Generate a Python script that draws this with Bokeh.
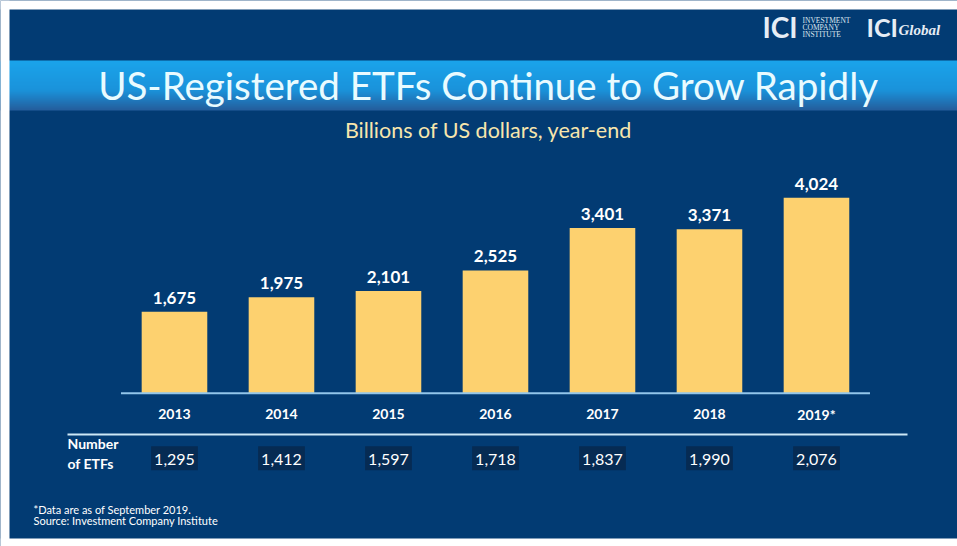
from bokeh.plotting import figure
from bokeh.models import ColumnDataSource, FactorRange, Range1d, Label, BoxAnnotation
from bokeh.transform import dodge
from bokeh.core.properties import value
from bokeh.embed import file_html
from bokeh.resources import INLINE

# ---------------- data ----------------
years = ["2013", "2014", "2015", "2016", "2017", "2018", "2019*"]
assets = [1675, 1975, 2101, 2525, 3401, 3371, 4024]          # billions of US dollars
etf_counts = [1295, 1412, 1597, 1718, 1837, 1990, 2076]      # number of ETFs
title_text = "US-Registered ETFs Continue to Grow Rapidly"
subtitle_text = "Billions of US dollars, year-end"
row_label = ["Number", "of ETFs"]
notes = ["*Data are as of September 2019.", "Source: Investment Company Institute"]

# ---------------- style ----------------
W, H = 957, 546
BG = "#023b73"
BAR = "#fdd16f"
FONT = "Lato"
D = 0.154  # horizontal shift of the category centres

def lerp(c1, c2, t):
    a = [int(c1[i:i + 2], 16) for i in (1, 3, 5)]
    b = [int(c2[i:i + 2], 16) for i in (1, 3, 5)]
    return "#" + "".join(f"{round(x + (y - x) * t):02x}" for x, y in zip(a, b))

src = ColumnDataSource(dict(
    year=years,
    assets=assets,
    asset_lbl=[f"{v:,}" for v in assets],
    zero=[0] * len(years),
    count_lbl=[f"{v:,}" for v in etf_counts],
))

p = figure(width=W, height=H,
           x_range=FactorRange(factors=years, range_padding=0.97196, range_padding_units="absolute"),
           y_range=Range1d(-3154.3, 8080.2),
           output_backend="svg", toolbar_location=None, tools="",
           x_axis_location=None, y_axis_location=None, min_border=0,
           background_fill_color=BG, border_fill_color="white", outline_line_color=None)
p.grid.visible = False

def box(left, right, top, bottom, color, level="annotation"):
    p.add_layout(BoxAnnotation(left=left, right=right, top=top, bottom=bottom,
                               left_units="screen", right_units="screen",
                               top_units="screen", bottom_units="screen",
                               fill_color=color, fill_alpha=1, line_color=None, level=level))

# title band with vertical gradient (screen units, origin bottom-left)
n = 25
for k in range(n):
    t = k / (n - 1)
    if t < 0.6:
        c = lerp("#1aa3ea", "#1a92da", t / 0.6)
    else:
        c = lerp("#1a92da", "#245f9e", (t - 0.6) / 0.4)
    top = 486 - 2 * k
    box(0, W, top, max(top - 3, 436), c, level="underlay")

# bars
xd = dodge("year", D, range=p.x_range)
p.vbar(x=xd, top="assets", bottom=0, width=0.613, source=src, fill_color=BAR, line_color=None)

# baseline under the bars
base_src = ColumnDataSource(dict(x0=[years[0]], x1=[years[-1]], y=[0]))
p.segment(x0=dodge("x0", D - 0.5, range=p.x_range), x1=dodge("x1", D + 0.5, range=p.x_range),
          y0="y", y1="y", source=base_src, line_color="#93c6ea", line_width=2)

# value labels
p.text(x=xd, y="assets", text="asset_lbl", source=src, text_align="center",
       text_baseline="alphabetic", y_offset=-14, text_color="white",
       text_font=value(FONT), text_font_style="bold", text_font_size="17px")

# year labels
p.text(x=xd, y="zero", text="year", source=src, text_align="center",
       text_baseline="alphabetic", y_offset=21, text_color="white",
       text_font=value(FONT), text_font_style="bold", text_font_size="14px")

# ETF count labels in dark boxes
p.text(x=xd, y="zero", text="count_lbl", source=src, text_align="center",
       text_baseline="alphabetic", y_offset=65, text_color="white",
       text_font=value(FONT), text_font_size="16px",
       background_fill_color="#062b53",
       padding=dict(left=3, right=3, top=8, bottom=5))

# separator line
box(67, 907, 113, 111, "#cde8f6")

def lab(x, y, text, size, color="white", style="normal", align="left", font=FONT):
    p.add_layout(Label(x=x, y=y, x_units="screen", y_units="screen", text=text,
                       text_align=align, text_baseline="alphabetic", text_color=color,
                       text_font=font, text_font_size=size, text_font_style=style))

lab(488, 462, title_text, "38.5px", color="#e9fbff", align="center")
lab(488, 417, subtitle_text, "21.5px", color="#f7e6ad", align="center")
lab(67, 103, row_label[0], "14px", style="bold")
lab(67, 83, row_label[1], "14px", style="bold")
lab(33, 37, notes[0], "11px")
lab(33, 26, notes[1], "11px")

# logos
lab(762, 520, "ICI", "28px", color="#e6edf5", style="bold")
lab(802, 526, "INVESTMENT", "7.5px", color="#dfe7f0", font="Liberation Serif")
lab(802, 519, "COMPANY", "7.5px", color="#dfe7f0", font="Liberation Serif")
lab(802, 512, "INSTITUTE", "7.5px", color="#dfe7f0", font="Liberation Serif")
lab(866, 520, "ICI", "25px", color="#e6edf5", style="bold")
lab(898, 517, "Global", "15px", color="#e6edf5", style="bold italic", font="Liberation Serif")

# white page margins around the slide
box(0, 9, H, 0, "white", level="overlay")
box(0, W, H, 537, "white", level="overlay")
box(0, W, 8, 0, "white", level="overlay")

open("out.html", "w").write(file_html(p, INLINE))
